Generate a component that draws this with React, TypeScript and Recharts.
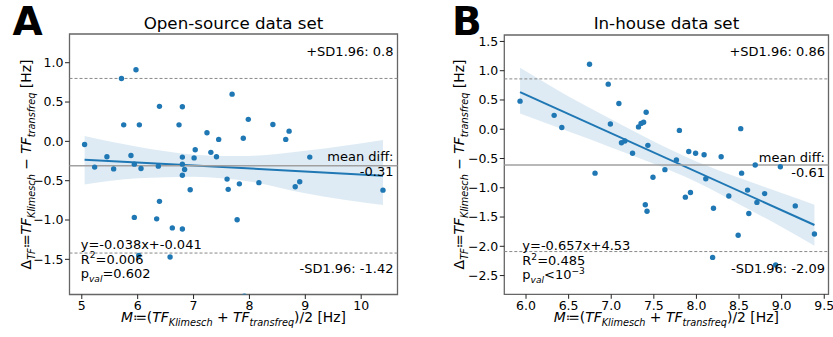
import React from 'react';
import { ComposedChart, Scatter, Line, Area, XAxis, YAxis, ReferenceLine, ReferenceArea } from 'recharts';

const FONT = '"DejaVu Sans", Verdana, sans-serif';
const BLUE = '#1f77b4';

// ---------- Panel A: Open-source data set ----------
const aPointsX = [5.05, 5.71, 5.97, 5.75, 6.03, 6.39, 6.80, 6.74, 7.24, 7.69, 7.98, 7.89, 7.45, 8.42, 8.71, 8.65, 7.03, 7.31, 7.41, 7.01, 6.80, 5.88, 5.45, 9.08, 5.23, 5.57, 5.94, 6.06, 6.37, 6.80, 6.84, 6.80, 7.60, 7.62, 7.82, 8.17, 8.82, 8.90, 10.39, 6.94, 6.39, 5.94, 6.34, 6.62, 6.80, 7.78, 6.02, 6.58, 7.91];
const aPointsY = [-0.04, 0.80, 0.91, 0.21, 0.21, 0.445, 0.44, 0.21, 0.11, 0.60, 0.28, 0.04, 0.025, 0.215, 0.13, 0.025, -0.107, -0.14, -0.195, -0.21, -0.20, -0.18, -0.195, -0.20, -0.327, -0.35, -0.29, -0.345, -0.315, -0.29, -0.357, -0.43, -0.48, -0.61, -0.54, -0.525, -0.577, -0.514, -0.62, -0.615, -0.763, -0.967, -0.985, -1.10, -1.115, -0.997, -1.45, -1.47, -1.97];
const aRegX = [5.05, 10.39];
const aRegY = [-0.233, -0.436];
const aBandX = [5.05, 6.0, 7.0, 7.5, 8.0, 9.0, 10.39];
const aBandLo = [-0.55, -0.47, -0.45, -0.47, -0.51, -0.66, -0.81];
const aBandHi = [0.067, -0.07, -0.17, -0.185, -0.185, -0.12, 0.017];
const aMeanDiff = -0.31;
const aSdHi = 0.8;
const aSdLo = -1.42;
const aXTicks = [5, 6, 7, 8, 9, 10];
const aYTicks = [1.0, 0.5, 0.0, -0.5, -1.0, -1.5];
const aXDomain = [4.78, 10.65];
const aYDomain = [-1.947, 1.365];
const aTitle = 'Open-source data set';
const aStats = ['y=-0.038x+-0.041', '0.006', '=0.602'];
const aSdHiLabel = '+SD1.96: 0.8';
const aSdLoLabel = '-SD1.96: -1.42';
const aMeanLabel = '-0.31';

// ---------- Panel B: In-house data set ----------
const bPointsX = [5.93, 6.33, 6.42, 6.745, 6.965, 6.99, 7.09, 7.12, 7.16, 7.25, 7.32, 7.35, 7.38, 7.41, 7.43, 7.63, 7.765, 7.80, 7.91, 7.99, 8.09, 8.29, 8.52, 8.69, 8.985, 6.81, 7.49, 7.40, 7.42, 7.87, 7.93, 8.11, 8.20, 8.19, 8.38, 8.53, 8.60, 8.615, 8.49, 8.71, 8.80, 9.16, 8.93, 9.385];
const bPointsY = [0.48, 0.237, 0.03, 1.11, 0.77, 0.09, 0.44, -0.23, -0.20, -0.41, 0.04, 0.10, 0.12, 0.29, -0.275, -0.69, -0.525, -0.02, -0.38, -0.41, -0.435, -0.47, 0.01, -0.61, -0.64, -0.75, -0.82, -1.29, -1.40, -1.16, -1.08, -0.845, -1.35, -2.19, -1.14, -0.75, -1.04, -1.44, -1.81, -1.25, -1.10, -1.31, -2.32, -1.79];
const bRegX = [5.93, 9.385];
const bRegY = [0.634, -1.636];
const bBandX = [5.93, 6.5, 7.0, 7.5, 8.0, 8.5, 9.0, 9.385];
const bBandLo = [0.27, -0.04, -0.31, -0.59, -0.90, -1.28, -1.67, -1.99];
const bBandHi = [1.05, 0.56, 0.17, -0.21, -0.55, -0.83, -1.09, -1.29];
const bMeanDiff = -0.61;
const bSdHi = 0.86;
const bSdLo = -2.09;
const bXTicks = [6.0, 6.5, 7.0, 7.5, 8.0, 8.5, 9.0, 9.5];
const bYTicks = [1.5, 1.0, 0.5, 0.0, -0.5, -1.0, -1.5, -2.0, -2.5];
const bXDomain = [5.745, 9.55];
const bYDomain = [-2.82, 1.61];
const bTitle = 'In-house data set';
const bStats = ['y=-0.657x+4.53', '0.485', '<10'];
const bSdHiLabel = '+SD1.96: 0.86';
const bSdLoLabel = '-SD1.96: -2.09';
const bMeanLabel = '-0.61';

const zip2 = (xs: number[], ys: number[]) => xs.map((x, i) => ({ x, y: ys[i] }));
const bandRows = (xs: number[], lo: number[], hi: number[]) => xs.map((x, i) => ({ x, band: [lo[i], hi[i]] }));

const fmtY = (v: number) => (v < 0 ? '\u2212' : '') + Math.abs(v).toFixed(1);

const Dot = (props: any) => <circle cx={props.cx} cy={props.cy} r={2.7} fill={BLUE} />;

type PanelProps = {
  left: number; width: number; margin: any;
  pts: any[]; reg: any[]; band: any[];
  mean: number; sdHi: number; sdLo: number;
  xTicks: number[]; yTicks: number[]; xDomain: number[]; yDomain: number[];
  fmtX: (v: number) => string;
};

function Panel(p: PanelProps) {
  const tickStyle = { fontSize: 12.5, fill: '#000', fontFamily: FONT };
  return (
    <div style={{ position: 'absolute', left: p.left, top: 0 }}>
      <ComposedChart width={p.width} height={337} margin={p.margin}>
        <XAxis dataKey="x" type="number" domain={p.xDomain} ticks={p.xTicks} allowDataOverflow
          tickFormatter={p.fmtX} tick={tickStyle} tickLine={{ stroke: '#222' }} tickSize={4.5} tickMargin={2}
          axisLine={false} height={30} interval={0} />
        <YAxis type="number" domain={p.yDomain} ticks={p.yTicks} allowDataOverflow width={40}
          tickFormatter={fmtY} tick={tickStyle} tickLine={{ stroke: '#222' }} tickSize={4.5} tickMargin={1.5}
          axisLine={false} interval={0} />
        <Area data={p.band} dataKey="band" type="monotone" fill={BLUE} fillOpacity={0.15} stroke="none" isAnimationActive={false} />
        <Scatter data={p.pts} dataKey="y" shape={Dot} isAnimationActive={false} />
        <Line data={p.reg} dataKey="y" type="linear" dot={false} stroke={BLUE} strokeWidth={2} isAnimationActive={false} />
        <ReferenceLine y={p.mean} stroke="#a0a0a0" strokeWidth={1.5} />
        <ReferenceLine y={p.sdHi} stroke="#888" strokeWidth={1} strokeDasharray="3 2" />
        <ReferenceLine y={p.sdLo} stroke="#888" strokeWidth={1} strokeDasharray="3 2" />
        <ReferenceArea x1={p.xDomain[0]} x2={p.xDomain[1]} y1={p.yDomain[0]} y2={p.yDomain[1]}
          fill="none" stroke="#666" strokeWidth={1.3} ifOverflow="visible" />
      </ComposedChart>
    </div>
  );
}

type Part = { t: string; it?: boolean; sub?: boolean; sup?: boolean };
function MathText({ parts, size }: { parts: Part[]; size: number }) {
  let shift = 0;
  return (
    <>
      {parts.map((p, i) => {
        const target = p.sub ? size * 0.3 : p.sup ? -size * 0.42 : 0;
        const dy = target - shift;
        shift = target;
        return (
          <tspan key={i} dy={dy} fontSize={p.sub || p.sup ? size * 0.7 : size} fontStyle={p.it ? 'italic' : 'normal'}>
            {p.t}
          </tspan>
        );
      })}
    </>
  );
}

const yLabelParts: Part[] = [
  { t: '\u0394' }, { t: 'TF', it: true, sub: true }, { t: '\u2254' }, { t: 'TF', it: true },
  { t: 'Klimesch', it: true, sub: true }, { t: ' \u2212 ' }, { t: 'TF', it: true },
  { t: 'transfreq', it: true, sub: true }, { t: ' [Hz]' },
];
const xLabelParts: Part[] = [
  { t: 'M', it: true }, { t: '\u2254(' }, { t: 'TF', it: true }, { t: 'Klimesch', it: true, sub: true },
  { t: ' + ' }, { t: 'TF', it: true }, { t: 'transfreq', it: true, sub: true }, { t: ')/2 [Hz]' },
];

function Overlay() {
  const ann = 13;
  const lab = 13.9;
  return (
    <svg width={833} height={337} style={{ position: 'absolute', left: 0, top: 0, pointerEvents: 'none' }} fontFamily={FONT}>
      {/* panel letters */}
      <text x={12.5} y={35} fontSize={39} fontWeight="bold" fill="#000">A</text>
      <text x={452} y={35} fontSize={39} fontWeight="bold" fill="#000">B</text>
      {/* titles */}
      <text x={233.5} y={29.3} fontSize={16.7} textAnchor="middle" fill="#000">{aTitle}</text>
      <text x={666.4} y={29.3} fontSize={16.7} textAnchor="middle" fill="#000">{bTitle}</text>
      {/* y labels */}
      <text transform="translate(30.5,164.5) rotate(-90)" textAnchor="middle" fill="#000" fontSize={lab}>
        <MathText parts={yLabelParts} size={lab} />
      </text>
      <text transform="translate(464,164.5) rotate(-90)" textAnchor="middle" fill="#000" fontSize={lab}>
        <MathText parts={yLabelParts} size={lab} />
      </text>
      {/* x labels */}
      <text x={233.5} y={321.5} textAnchor="middle" fill="#000" fontSize={lab}>
        <MathText parts={xLabelParts} size={lab} />
      </text>
      <text x={666.4} y={321.5} textAnchor="middle" fill="#000" fontSize={lab}>
        <MathText parts={xLabelParts} size={lab} />
      </text>
      {/* panel A annotations */}
      <g fontSize={ann} fill="#000">
        <text x={393.5} y={56} textAnchor="end">{aSdHiLabel}</text>
        <text x={393.5} y={161} textAnchor="end">mean diff:</text>
        <text x={393.5} y={176} textAnchor="end">{aMeanLabel}</text>
        <text x={393.5} y={273} textAnchor="end">{aSdLoLabel}</text>
        <text x={80.7} y={248.5}>{aStats[0]}</text>
        <text x={80.7} y={263.5}>
          <MathText parts={[{ t: 'R' }, { t: '2', sup: true }, { t: '=' + aStats[1] }]} size={ann} />
        </text>
        <text x={80.7} y={278}>
          <MathText parts={[{ t: 'p' }, { t: 'val', it: true, sub: true }, { t: aStats[2] }]} size={ann} />
        </text>
      </g>
      {/* panel B annotations */}
      <g fontSize={ann} fill="#000">
        <text x={825} y={56} textAnchor="end">{bSdHiLabel}</text>
        <text x={825} y={161.5} textAnchor="end">mean diff:</text>
        <text x={825} y={176.5} textAnchor="end">{bMeanLabel}</text>
        <text x={825} y={273.3} textAnchor="end">{bSdLoLabel}</text>
        <text x={522.3} y={250}>{bStats[0]}</text>
        <text x={522.3} y={265}>
          <MathText parts={[{ t: 'R' }, { t: '2', sup: true }, { t: '=' + bStats[1] }]} size={ann} />
        </text>
        <text x={522.3} y={279}>
          <MathText parts={[{ t: 'p' }, { t: 'val', it: true, sub: true }, { t: bStats[2] }, { t: '\u22123', sup: true }]} size={ann} />
        </text>
      </g>
    </svg>
  );
}

export default function App() {
  const aPts = zip2(aPointsX, aPointsY);
  const bPts = zip2(bPointsX, bPointsY);
  return (
    <div style={{ position: 'absolute', left: 0, top: 0, width: 833, height: 337, background: '#fff', fontFamily: FONT }}>
      <Panel left={0} width={416} margin={{ top: 34, right: 18.5, bottom: 12.5, left: 29.5 }}
        pts={aPts} reg={zip2(aRegX, aRegY)} band={bandRows(aBandX, aBandLo, aBandHi)}
        mean={aMeanDiff} sdHi={aSdHi} sdLo={aSdLo}
        xTicks={aXTicks} yTicks={aYTicks} xDomain={aXDomain} yDomain={aYDomain}
        fmtX={(v) => String(v)} />
      <Panel left={416} width={417} margin={{ top: 35, right: 4.5, bottom: 12.7, left: 48.3 }}
        pts={bPts} reg={zip2(bRegX, bRegY)} band={bandRows(bBandX, bBandLo, bBandHi)}
        mean={bMeanDiff} sdHi={bSdHi} sdLo={bSdLo}
        xTicks={bXTicks} yTicks={bYTicks} xDomain={bXDomain} yDomain={bYDomain}
        fmtX={(v) => v.toFixed(1)} />
      <Overlay />
    </div>
  );
}
